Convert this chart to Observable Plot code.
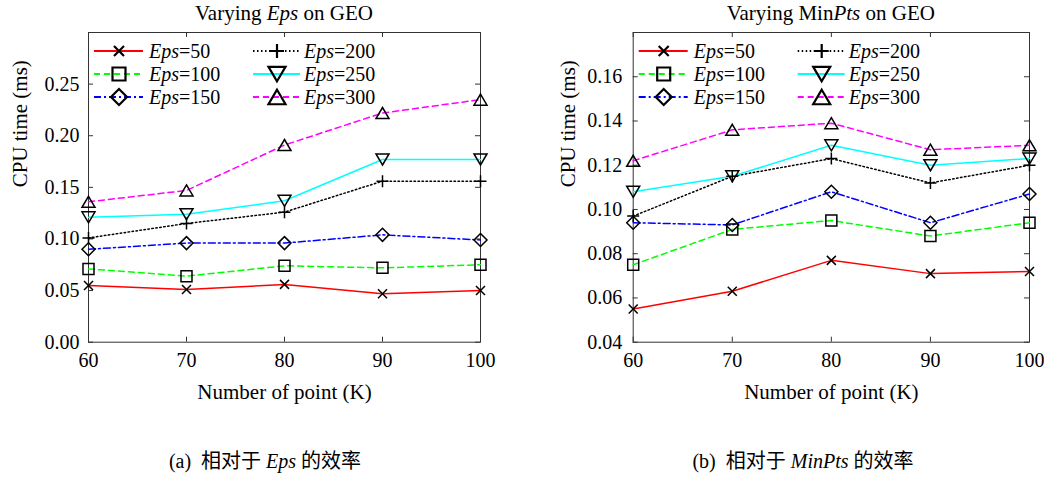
<!DOCTYPE html>
<html><head><meta charset="utf-8">
<script src="https://cdn.jsdelivr.net/npm/d3@7"></script>
<script src="https://cdn.jsdelivr.net/npm/@observablehq/plot@0.6"></script>
<style>
body{margin:0;background:#fff;}
#root{position:relative;width:1044px;height:479px;overflow:hidden;background:#fff;}
.panel{position:absolute;top:0;}
.cap{position:absolute;top:451px;font-size:20px;line-height:20px;font-family:"Liberation Serif","Noto Sans CJK SC";white-space:nowrap;transform:translateX(-50%);color:#000;}
</style></head><body><div id="root"></div>
<script>
// ---- data ----
const xValues = [60, 70, 80, 90, 100];
const epsSizes = [50, 100, 150, 200, 250, 300];
const yTicksA = [0, 0.05, 0.10, 0.15, 0.20, 0.25];
const yTicksB = [0.04, 0.06, 0.08, 0.10, 0.12, 0.14, 0.16];

// (a) Varying Eps
const eps50A  = [0.055, 0.051, 0.056, 0.047, 0.050];
const eps100A = [0.071, 0.064, 0.074, 0.072, 0.075];
const eps150A = [0.090, 0.096, 0.096, 0.104, 0.099];
const eps200A = [0.101, 0.115, 0.126, 0.156, 0.156];
const eps250A = [0.121, 0.124, 0.137, 0.177, 0.177];
const eps300A = [0.136, 0.147, 0.191, 0.222, 0.235];

// (b) Varying MinPts
const eps50B  = [0.055, 0.063, 0.077, 0.071, 0.072];
const eps100B = [0.075, 0.091, 0.095, 0.088, 0.094];
const eps150B = [0.094, 0.093, 0.108, 0.094, 0.107];
const eps200B = [0.097, 0.115, 0.123, 0.112, 0.120];
const eps250B = [0.108, 0.115, 0.129, 0.120, 0.123];
const eps300B = [0.122, 0.136, 0.139, 0.127, 0.129];

// ---- styles ----
const rad = s => Math.sqrt(s / Math.PI);
const symTimes = {draw(c, s){const r = rad(s); c.moveTo(-r,-r); c.lineTo(r,r); c.moveTo(-r,r); c.lineTo(r,-r);}};
const symPlus = {draw(c, s){const r = rad(s); c.moveTo(0,-r); c.lineTo(0,r); c.moveTo(-r,0); c.lineTo(r,0);}};
const symSquare = {draw(c, s){const r = rad(s); c.moveTo(-r,-r); c.lineTo(r,-r); c.lineTo(r,r); c.lineTo(-r,r); c.closePath();}};
const symDiamond = {draw(c, s){const r = rad(s); c.moveTo(0,-r); c.lineTo(r,0); c.lineTo(0,r); c.lineTo(-r,0); c.closePath();}};
const symTriUp = {draw(c, s){const r = rad(s), h = r*0.85; c.moveTo(0,-h); c.lineTo(r,h); c.lineTo(-r,h); c.closePath();}};
const symTriDown = {draw(c, s){const r = rad(s), h = r*0.85; c.moveTo(0,h); c.lineTo(r,-h); c.lineTo(-r,-h); c.closePath();}};

const colors = ["#ff0000", "#00ff00", "#0000ff", "#000000", "#00ffff", "#ff00ff"];
const dashes = [null, "6,4", "7,3,2,3", "1.5,2.5", null, "6,4"];
const symbols = [symTimes, symSquare, symDiamond, symPlus, symTriDown, symTriUp];
const markerR = [4.5, 5.5, 6.5, 6, 6.5, 6.5];
const legendR = [5, 6.5, 8, 7, 8.5, 8.5];

function panel(values, yDomain, yTicks, marginLeft, marginRight, tickPad, ylabDx, titleParts) {
  const W = 522, H = 420, mt = 32, mb = H - 341.7;
  const innerH = H - mt - mb, innerW = W - marginLeft - marginRight;
  const rows = [];
  values.forEach((arr, i) => arr.forEach((v, j) => rows.push({series: i, x: xValues[j], y: v})));
  const tickColor = "#333";
  const marks = [
    Plot.frame({stroke: tickColor}),
    Plot.tickX(xValues, {x: d => d, insetTop: innerH - 5, stroke: tickColor}),
    Plot.tickX(xValues, {x: d => d, insetBottom: innerH - 5, stroke: tickColor}),
    Plot.tickY(yTicks, {y: d => d, insetRight: innerW - 5, stroke: tickColor}),
    Plot.tickY(yTicks, {y: d => d, insetLeft: innerW - 5, stroke: tickColor}),
    Plot.axisX({ticks: xValues, tickSize: 0, tickPadding: 11, label: null, fontSize: 20}),
    Plot.axisY({ticks: yTicks, tickFormat: d3.format(".2f"), tickSize: 0, tickPadding: tickPad, label: null, fontSize: 20}),
    Plot.text(["CPU time (ms)"], {text: d => d, frameAnchor: "left", dx: ylabDx, rotate: -90, fontSize: 21}),
    Plot.text(["Number of point (K)"], {text: d => d, frameAnchor: "bottom", dy: 57, fontSize: 21})
  ];
  epsSizes.forEach((_, i) => {
    const d = rows.filter(r => r.series === i);
    marks.push(Plot.line(d, {x: "x", y: "y", stroke: colors[i], strokeWidth: 1.5, strokeDasharray: dashes[i]}));
  });
  epsSizes.forEach((_, i) => {
    const d = rows.filter(r => r.series === i);
    marks.push(Plot.dot(d, {x: "x", y: "y", symbol: symbols[i], r: markerR[i], stroke: "black", fill: "none", strokeWidth: 1.5}));
  });
  const chart = Plot.plot({
    width: W, height: H, marginLeft, marginRight, marginTop: mt, marginBottom: mb,
    x: {domain: [60, 100]}, y: {domain: yDomain},
    style: {fontFamily: "Liberation Serif", fontSize: "20px", color: "black", background: "white", overflow: "visible"},
    marks
  });
  const svg = d3.select(chart);
  const [fx0, fx1] = chart.scale("x").range;
  const t = svg.append("text").attr("x", (fx0 + fx1) / 2).attr("y", 20).attr("text-anchor", "middle")
    .attr("font-size", 21).attr("fill", "black");
  titleParts.forEach(([s, it]) => t.append("tspan").attr("font-style", it ? "italic" : "normal").text(s));
  const rowY = [51, 74, 97];
  const g = svg.append("g");
  epsSizes.forEach((e, i) => {
    const col = i < 3 ? 0 : 1, y = rowY[i % 3];
    const x0 = fx0 + (col ? 165 : 6), x1 = fx0 + (col ? 212 : 55), mx = fx0 + (col ? 189 : 31), tx = fx0 + (col ? 216 : 61);
    g.append("line").attr("x1", x0).attr("x2", x1).attr("y1", y).attr("y2", y)
      .attr("stroke", colors[i]).attr("stroke-width", 2).attr("stroke-dasharray", dashes[i]);
    const p = d3.path(); symbols[i].draw(p, legendR[i] * legendR[i] * Math.PI);
    g.append("path").attr("d", p.toString()).attr("transform", `translate(${mx},${y})`)
      .attr("stroke", "black").attr("stroke-width", 2.2).attr("fill", "none");
    const tt = g.append("text").attr("x", tx).attr("y", y + 7).attr("font-size", 20)
      .attr("text-anchor", "start").attr("fill", "black");
    tt.append("tspan").attr("font-style", "italic").text("Eps");
    tt.append("tspan").text("=" + e);
  });
  return chart;
}

const root = document.getElementById("root");
const a = panel([eps50A, eps100A, eps150A, eps200A, eps250A, eps300A], [0, 0.3], yTicksA, 88, 42, 9, -68,
  [["Varying ", false], ["Eps", true], [" on GEO", false]]);
a.classList.add("panel"); a.style.left = "0px"; root.appendChild(a);
const b = panel([eps50B, eps100B, eps150B, eps200B, eps250B, eps300B], [0.04, 0.18], yTicksB, 110.7, 15, 11, -65,
  [["Varying Min", false], ["Pts", true], [" on GEO", false]]);
b.classList.add("panel"); b.style.left = "522px"; root.appendChild(b);

const capA = document.createElement("div");
capA.className = "cap"; capA.style.left = "265px";
capA.innerHTML = "(a)&nbsp;&nbsp;相对于 <i>Eps</i> 的效率";
root.appendChild(capA);
const capB = document.createElement("div");
capB.className = "cap"; capB.style.left = "803px";
capB.innerHTML = "(b)&nbsp;&nbsp;相对于 <i>MinPts</i> 的效率";
root.appendChild(capB);
</script></body></html>
